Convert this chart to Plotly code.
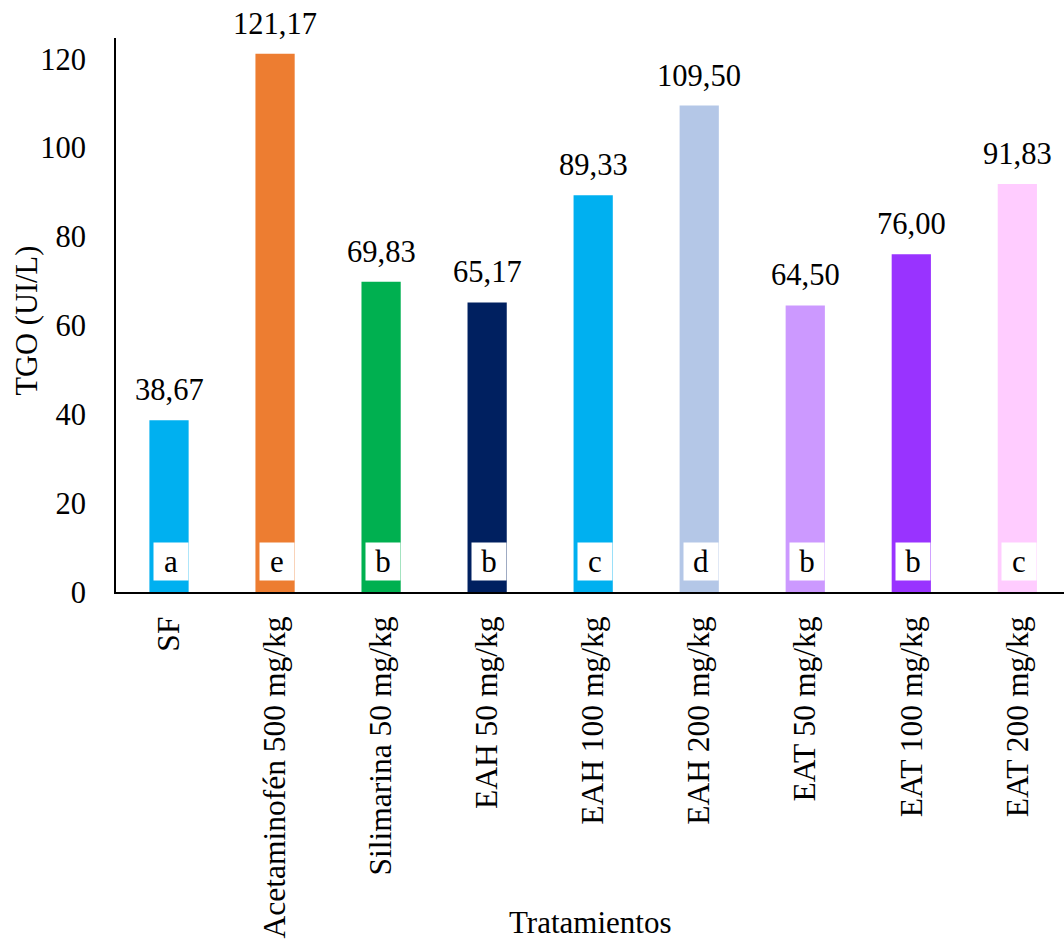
import plotly.graph_objects as go

categories = ["SF", "Acetaminofén 500 mg/kg", "Silimarina 50 mg/kg", "EAH 50 mg/kg",
              "EAH 100 mg/kg", "EAH 200 mg/kg", "EAT 50 mg/kg", "EAT 100 mg/kg", "EAT 200 mg/kg"]
values = [38.67, 121.17, 69.83, 65.17, 89.33, 109.50, 64.50, 76.00, 91.83]
letters = ["a", "e", "b", "b", "c", "d", "b", "b", "c"]
colors = ["#00B0F0", "#ED7D31", "#00B050", "#002060", "#00B0F0", "#B4C7E7",
          "#CC99FF", "#9933FF", "#FFCCFF"]

FONT = "Liberation Serif"

fig = go.Figure()
fig.add_trace(go.Bar(x=list(range(len(categories))), y=values, marker_color=colors,
                     marker_line_width=0, width=0.37, hoverinfo="skip"))

annotations = []
for i, (v, l) in enumerate(zip(values, letters)):
    annotations.append(dict(x=i, y=v, xref="x", yref="y", text=f"{v:.2f}".replace(".", ","),
                            showarrow=False, yanchor="bottom", yshift=11,
                            font=dict(family=FONT, size=30.5, color="black")))
    annotations.append(dict(x=i, y=0, xref="x", yref="y", text=l, showarrow=False,
                            yanchor="bottom", xshift=2, yshift=11, width=34, height=37,
                            bgcolor="white", borderpad=0,
                            font=dict(family=FONT, size=31, color="black")))
annotations.append(dict(x=0.5, y=-0.597, xref="paper", yref="paper", text="Tratamientos",
                        showarrow=False, yanchor="middle", xanchor="center",
                        font=dict(family=FONT, size=31, color="black")))
annotations.append(dict(x=0, y=0.49, xref="paper", yref="paper", text="TGO (UI/L)",
                        showarrow=False, yanchor="middle", xanchor="center", textangle=-90,
                        xshift=-89, font=dict(family=FONT, size=30.5, color="black")))

fig.update_layout(
    width=1064, height=940,
    margin=dict(l=116, r=0, t=38, b=348),
    paper_bgcolor="white", plot_bgcolor="white",
    showlegend=False,
    font=dict(family=FONT, size=30, color="black"),
    annotations=annotations,
    xaxis=dict(range=[-0.5, 8.44], tickmode="array", tickvals=list(range(len(categories))),
               ticktext=categories, tickangle=-90, showline=True, linecolor="black",
               linewidth=2, ticks="", showgrid=False, zeroline=False,
               ticklabelstandoff=10,
               tickfont=dict(family=FONT, size=31.5)),
    yaxis=dict(range=[0, 124.7], tickvals=[0, 20, 40, 60, 80, 100, 120], showline=True,
               linecolor="black", linewidth=2, ticks="", showgrid=False, zeroline=False,
               ticklabelstandoff=22,
               tickfont=dict(family=FONT, size=30.5)),
)

fig.write_html("out.html")
